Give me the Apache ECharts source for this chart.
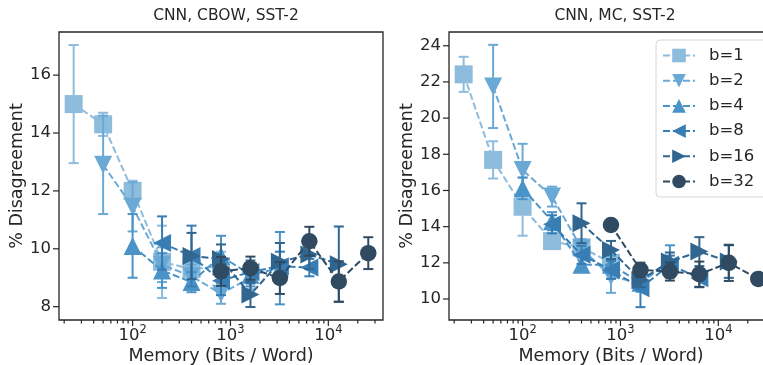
<!DOCTYPE html>
<html>
<head>
<meta charset="utf-8">
<script src="https://cdn.jsdelivr.net/npm/echarts@6/dist/echarts.min.js"></script>
<style>
  html, body { margin: 0; padding: 0; background: #ffffff; }
  #chart { width: 763px; height: 365px; }
</style>
</head>
<body>
<div id="chart"></div>
<script>
// Series labels (bits per entry)
const seriesNames = ['b=1', 'b=2', 'b=4', 'b=8', 'b=16', 'b=32'];

// Memory (bits / word) for each precision
const memB1 = [25, 50, 100, 200, 400, 800];
const memB2 = [50, 100, 200, 400, 800, 1600];
const memB4 = [100, 200, 400, 800, 1600, 3200];
const memB8 = [200, 400, 800, 1600, 3200, 6400];
const memB16 = [400, 800, 1600, 3200, 6400, 12800];
const memB32 = [800, 1600, 3200, 6400, 12800, 25600];

// CNN, CBOW, SST-2: mean % disagreement and error half-widths
const cbowB1 = [15.0, 14.3, 12.0, 9.55, 9.3, 9.4];
const cbowErrB1 = [2.04, 0.4, 0.35, 1.25, 0.5, 0.5];
const cbowB2 = [12.9, 11.45, 9.45, 9.05, 8.45, 9.0];
const cbowErrB2 = [1.7, 0.85, 0.6, 0.4, 0.35, 0.4];
const cbowB4 = [10.1, 9.25, 8.85, 9.75, 9.1, 9.33];
const cbowErrB4 = [1.1, 0.6, 0.35, 0.7, 0.4, 1.25];
const cbowB8 = [10.2, 9.75, 8.9, 9.2, 9.4, 9.35];
const cbowErrB8 = [0.92, 1.05, 0.5, 0.4, 0.5, 0.3];
const cbowB16 = [9.75, 9.65, 8.42, 9.55, 9.8, 9.47];
const cbowErrB16 = [0.8, 0.5, 0.43, 0.65, 0.5, 1.3];
const cbowB32 = [9.22, 9.33, 8.99, 10.26, 8.87, 9.85];
const cbowErrB32 = [0.5, 0.4, 0.55, 0.5, 0.7, 0.55];

// CNN, MC, SST-2: mean % disagreement and error half-widths
const mcB1 = [22.42, 17.69, 15.1, 13.2, 12.85, 12.0];
const mcErrB1 = [0.97, 1.03, 1.6, 0.35, 0.45, 0.5];
const mcB2 = [21.75, 17.13, 15.66, 12.8, 11.24, 10.9];
const mcErrB2 = [2.3, 1.45, 0.55, 0.5, 0.9, 0.4];
const mcB4 = [16.12, 14.3, 11.9, 11.9, 10.9, 12.07];
const mcErrB4 = [0.6, 0.5, 0.4, 0.5, 0.5, 0.9];
const mcB8 = [14.13, 12.44, 11.61, 10.6, 11.9, 11.15];
const mcErrB8 = [0.5, 0.5, 0.5, 1.05, 0.5, 0.5];
const mcB16 = [14.19, 12.71, 11.05, 12.07, 12.62, 12.07];
const mcErrB16 = [1.1, 0.5, 0.4, 0.5, 0.8, 0.9];
const mcB32 = [14.09, 11.61, 11.52, 11.37, 12.0, 11.11];
const mcErrB32 = [0.3, 0.4, 0.5, 0.7, 1.0, 0.3];

// Axis limits and tick values
const xLimits = [17.7, 36200];
const cbowYLimits = [7.54, 17.49];
const mcYLimits = [8.84, 24.76];
const xMajorTicks = [100, 1000, 10000];
const xMinorTicks = [20, 30, 40, 50, 60, 70, 80, 90,
  200, 300, 400, 500, 600, 700, 800, 900,
  2000, 3000, 4000, 5000, 6000, 7000, 8000, 9000, 20000, 30000];
const cbowYTicks = [8, 10, 12, 14, 16];
const mcYTicks = [10, 12, 14, 16, 18, 20, 22, 24];

const memory = [memB1, memB2, memB4, memB8, memB16, memB32];
const cbowMeans = [cbowB1, cbowB2, cbowB4, cbowB8, cbowB16, cbowB32];
const cbowErrs = [cbowErrB1, cbowErrB2, cbowErrB4, cbowErrB8, cbowErrB16, cbowErrB32];
const mcMeans = [mcB1, mcB2, mcB4, mcB8, mcB16, mcB32];
const mcErrs = [mcErrB1, mcErrB2, mcErrB4, mcErrB8, mcErrB16, mcErrB32];

const colors = ['#8dbcdd', '#6aa9d5', '#4a93c8', '#387db4', '#306690', '#2f4a61'];
const symbols = ['rect', 'triangle', 'triangle', 'triangle', 'triangle', 'circle'];
const rotations = [0, 180, 0, 90, -90, 0];
const sizes = [[18, 18], [18, 18], [18, 18], [18, 18], [18, 18], [16.5, 16.5]];

const ink = '#262626';
const font = 'DejaVu Sans';

const chart = echarts.init(document.getElementById('chart'), null, { renderer: 'canvas' });

function xLabel(value) {
  const l = Math.log10(value);
  const e = Math.round(l);
  if (Math.abs(l - e) > 1e-6) return '';
  return '{b|10}{s|' + e + '}';
}

function yLabelFor(ticks) {
  return function (value) {
    for (const t of ticks) if (Math.abs(t - value) < 1e-6) return String(t);
    return '';
  };
}

function errorBarSeries(panel, k, means, errs) {
  const data = memory[k].map((m, i) => [m, means[i], errs[i]]);
  return {
    type: 'custom',
    xAxisIndex: panel, yAxisIndex: panel,
    z: 10 + 2 * k,
    silent: true,
    data: data,
    encode: { x: 0, y: 1 },
    renderItem: function (params, api) {
      const x = api.value(0), y = api.value(1), e = api.value(2);
      const top = api.coord([x, y + e]);
      const bot = api.coord([x, y - e]);
      const style = { stroke: colors[k], lineWidth: 2 };
      const cap = 5;
      return {
        type: 'group',
        children: [
          { type: 'line', shape: { x1: top[0], y1: top[1], x2: bot[0], y2: bot[1] }, style: style },
          { type: 'line', shape: { x1: top[0] - cap, y1: top[1], x2: top[0] + cap, y2: top[1] }, style: style },
          { type: 'line', shape: { x1: bot[0] - cap, y1: bot[1], x2: bot[0] + cap, y2: bot[1] }, style: style }
        ]
      };
    }
  };
}

function lineSeries(panel, k, means) {
  return {
    type: 'line',
    name: seriesNames[k],
    xAxisIndex: panel, yAxisIndex: panel,
    z: 11 + 2 * k,
    data: memory[k].map((m, i) => [m, means[i]]),
    symbol: symbols[k],
    symbolSize: sizes[k],
    symbolRotate: rotations[k],
    showSymbol: true,
    clip: false,
    itemStyle: { color: colors[k], opacity: 1 },
    lineStyle: { color: colors[k], width: 2, type: [7, 3] },
    emphasis: { disabled: true },
    animation: false
  };
}

// Tick marks drawn outward from the frame through the axis scales
function xTickSeries(panel, ticks, yMin, len) {
  return {
    type: 'custom', xAxisIndex: panel, yAxisIndex: panel, silent: true, z: 1,
    clip: false,
    data: ticks.map(t => [t, yMin]),
    encode: { x: 0, y: 1 },
    renderItem: function (params, api) {
      const p = api.coord([api.value(0), api.value(1)]);
      return { type: 'line', shape: { x1: p[0], y1: p[1], x2: p[0], y2: p[1] + len },
        style: { stroke: ink, lineWidth: 1.2 } };
    }
  };
}
function yTickSeries(panel, ticks, xMin) {
  return {
    type: 'custom', xAxisIndex: panel, yAxisIndex: panel, silent: true, z: 1,
    clip: false,
    data: ticks.map(t => [xMin, t]),
    encode: { x: 0, y: 1 },
    renderItem: function (params, api) {
      const p = api.coord([api.value(0), api.value(1)]);
      return { type: 'line', shape: { x1: p[0], y1: p[1], x2: p[0] - 6, y2: p[1] },
        style: { stroke: ink, lineWidth: 1.2 } };
    }
  };
}

function xAxisFor(gridIndex) {
  return {
    type: 'log', logBase: 10, gridIndex: gridIndex,
    min: xLimits[0], max: xLimits[1],
    name: 'Memory (Bits / Word)', nameLocation: 'middle', nameGap: 27,
    nameMoveOverlap: false,
    nameTextStyle: { fontFamily: font, fontSize: 17.5, color: ink },
    axisLine: { show: false },
    axisTick: { show: false },
    splitLine: { show: false },
    minorTick: { show: false },
    axisLabel: {
      formatter: xLabel, margin: 4, showMinLabel: false, showMaxLabel: false,
      rich: {
        b: { fontFamily: font, fontSize: 16.5, color: ink },
        s: { fontFamily: font, fontSize: 11.5, color: ink, padding: [0, 0, 12, 0] }
      }
    }
  };
}

function yAxisFor(gridIndex, lim, ticks, split) {
  return {
    type: 'value', gridIndex: gridIndex,
    min: lim[0], max: lim[1], splitNumber: split,
    name: '% Disagreement', nameLocation: 'middle', nameGap: 33,
    nameMoveOverlap: false,
    nameTextStyle: { fontFamily: font, fontSize: 17.5, color: ink },
    axisLine: { show: false },
    axisTick: { show: false },
    splitLine: { show: false },
    axisLabel: {
      formatter: yLabelFor(ticks), margin: 8, showMinLabel: false, showMaxLabel: false,
      fontFamily: font, fontSize: 16.5, color: ink
    }
  };
}

const series = [];
for (let k = 0; k < 6; k++) {
  series.push(errorBarSeries(0, k, cbowMeans[k], cbowErrs[k]));
  series.push(lineSeries(0, k, cbowMeans[k]));
}
for (let k = 0; k < 6; k++) {
  series.push(errorBarSeries(1, k, mcMeans[k], mcErrs[k]));
  series.push(lineSeries(1, k, mcMeans[k]));
}
series.push(xTickSeries(0, xMajorTicks, cbowYLimits[0], 6));
series.push(xTickSeries(0, xMinorTicks, cbowYLimits[0], 3.5));
series.push(xTickSeries(1, xMajorTicks, mcYLimits[0], 6));
series.push(xTickSeries(1, xMinorTicks.filter(v => v < 30000), mcYLimits[0], 3.5));
series.push(yTickSeries(0, cbowYTicks, xLimits[0]));
series.push(yTickSeries(1, mcYTicks, xLimits[0]));

chart.setOption({
  animation: false,
  backgroundColor: '#ffffff',
  title: [
    { text: 'CNN, CBOW, SST-2', left: 221, top: 3, textAlign: 'center',
      textStyle: { fontFamily: font, fontSize: 15.5, fontWeight: 'normal', color: ink } },
    { text: 'CNN, MC, SST-2', left: 610, top: 3, textAlign: 'center',
      textStyle: { fontFamily: font, fontSize: 15.5, fontWeight: 'normal', color: ink } }
  ],
  grid: [
    { left: 59, top: 32, width: 324, height: 288, outerBoundsMode: 'none', containLabel: false,
      show: true, borderColor: ink, borderWidth: 1.3, backgroundColor: 'transparent' },
    { left: 449, top: 32, width: 324, height: 288, outerBoundsMode: 'none', containLabel: false,
      show: true, borderColor: ink, borderWidth: 1.3, backgroundColor: 'transparent' }
  ],
  xAxis: [xAxisFor(0), xAxisFor(1)],
  yAxis: [yAxisFor(0, cbowYLimits, cbowYTicks, 5), yAxisFor(1, mcYLimits, mcYTicks, 8)],
  legend: {
    data: seriesNames,
    orient: 'vertical',
    left: 656, top: 40,
    itemWidth: 32, itemHeight: 17, itemGap: 8.2,
    padding: [7, 14, 7, 6],
    backgroundColor: '#ffffff',
    borderColor: '#d6d6d6', borderWidth: 1, borderRadius: 4,
    textStyle: { fontFamily: font, fontSize: 16.5, color: ink, padding: [0, 0, 0, 9] },
    selectedMode: false
  },
  series: series
});
</script>
</body>
</html>
